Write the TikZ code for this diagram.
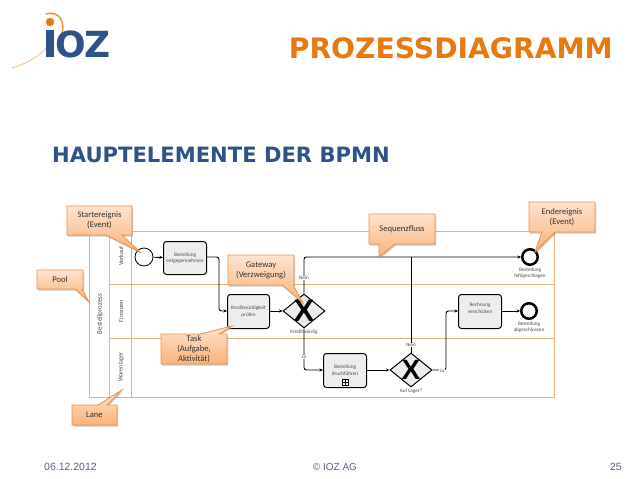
\documentclass[tikz,border=0pt]{standalone}
\usepackage{fontspec}
\setmainfont{Carlito}
\newfontfamily\headfont{DejaVu Sans}
\newfontfamily\footfont{Liberation Sans}
\usetikzlibrary{shapes.geometric,arrows.meta,shadows}
\definecolor{iozblue}{HTML}{2F5288}
\definecolor{iozorange}{HTML}{E8790F}
\definecolor{frameor}{HTML}{EDB07A}
\definecolor{callb}{HTML}{E8934A}
\definecolor{calltop}{HTML}{FDE3CF}
\definecolor{callbot}{HTML}{F9B27A}
\definecolor{foot}{HTML}{55637D}
\tikzset{
  x=1pt,y=-1pt,
  framel/.style={draw=frameor,line width=.9pt},
  callout/.style={draw=callb,line width=.8pt,top color=calltop,bottom color=callbot,
     general shadow={fill=black!45,opacity=.45,shadow xshift=1pt,shadow yshift=-1.5pt}},
  calltext/.style={font=\fontsize{8.6}{10}\selectfont,text=black!80,align=center,inner sep=0pt},
  task/.style={draw=black,line width=1pt,fill=black!7,rounded corners=3pt,inner sep=0pt,anchor=north west},
  tasktext/.style={font=\fontsize{5.2}{6.6}\selectfont,text=black!70,align=center},
  gate/.style={draw=black,line width=1pt,fill=black!7,diamond,aspect=1.24,inner sep=0pt,minimum width=42pt,minimum height=34pt},
  xmark/.style={font=\fontsize{#1}{#1}\footfont\bfseries,text=black,inner sep=0pt},
  startev/.style={circle,draw=black,line width=.8pt,fill=white,minimum size=18pt,inner sep=0pt},
  endev/.style={circle,draw=black,line width=2.5pt,fill=white,minimum size=15.5pt,inner sep=0pt},
  flow/.style={draw=black,line width=.9pt,rounded corners=2.5pt,-{Stealth[length=3.5pt,width=3pt]}},
  plain flow/.style={draw=black,line width=.9pt,rounded corners=2.5pt},
  small/.style={font=\fontsize{5.2}{6.4}\selectfont,text=black!70,align=center,inner sep=0pt},
  lanetext/.style={font=\fontsize{#1}{8}\selectfont,text=black!70,rotate=90,inner sep=0pt},
  foottext/.style={font=\fontsize{#1}{11}\footfont,text=foot,inner sep=0pt}
}
\begin{document}
\begin{tikzpicture}
\useasboundingbox (0,0) rectangle (638,479);
\fill[white] (0,0) rectangle (638,479);

% logo
\draw[iozorange!55,line width=.7pt,line cap=round] (12,68) .. controls (28,63) and (40,56) .. (48,46);
\draw[iozorange!80,line width=1.5pt,line cap=round] (46,14) .. controls (58,10) and (68,22) .. (60,38);
\fill[iozorange] (50,22) circle (4.2);
\fill[iozblue] (46,30) rectangle (54,57);
\node[font=\fontsize{36}{36}\headfont\bfseries,text=iozblue,inner sep=0pt,anchor=base west] (logotext) at (55,57) {\addfontfeature{LetterSpace=-3}OZ};

% titles
\node[font=\fontsize{28.2}{30}\headfont\bfseries,text=iozorange,anchor=base east,inner sep=0pt] (title) at (613,58) {PROZESSDIAGRAMM};
\node[font=\fontsize{21.1}{24}\headfont\bfseries,text=iozblue,anchor=base west,inner sep=0pt] (sub) at (52,162) {HAUPTELEMENTE DER BPMN};

% pool
\draw[framel] (89,231) rectangle (554,397);
\draw[framel] (109,231) -- (109,397);
\draw[framel] (131,231) -- (131,397);
\draw[framel] (109,284) -- (554,284);
\draw[framel] (109,338) -- (554,338);
\node[lanetext=7] (lpool) at (100,314) {Bestellprozess};
\node[lanetext=6.2] (l1) at (121,256) {Verkauf};
\node[lanetext=6.2] (l2) at (121,311) {Finanzen};
\node[lanetext=6.2] (l3) at (121,367) {Warenlager};

% bpmn elements
\node[startev] (start) at (144,257) {};
\node[task,minimum width=43pt,minimum height=33pt,tasktext] (t1) at (163,241) {Bestellung\\entgegennehmen};
\node[task,minimum width=42pt,minimum height=34pt,tasktext] (t2) at (227,294) {Kreditwürdigkeit\\prüfen};
\node[gate] (g1) at (304,311) {};
\node[xmark=31] (x1) at (g1.center) {X};
\node[task,minimum width=43pt,minimum height=34pt,tasktext] (t3) at (323,353) {Bestellung\\druchführen};
\node[gate] (g2) at (411,370) {};
\node[xmark=28] (x2) at (g2.center) {X};
\node[task,minimum width=43pt,minimum height=34pt,tasktext] (t4) at (458,294) {Rechnung\\verschicken\\\mbox{}};
\node[endev] (e1) at (530,257) {};
\node[endev] (e2) at (529,311) {};
\node[draw=black,line width=.8pt,fill=white,minimum size=6pt,inner sep=0pt] (sub3) at (345,382) {};
\draw[black,line width=.7pt] (sub3.west) -- (sub3.east) (sub3.north) -- (sub3.south);

\coordinate (c1) at (219,257);
\coordinate (c2) at (219,311);
\coordinate (c3) at (304,257);
\coordinate (c4) at (304,370);
\coordinate (c5) at (411,257);
\coordinate (c6) at (446,370);
\coordinate (c7) at (446,311);

\draw[flow] (start) -- (t1);
\draw[flow] (t1.east |- c1) -- (c1) -- (c2) -- (t2.west |- c2);
\draw[flow] (t2.east |- g1) -- (g1.west);
\draw[flow] (g1.north) -- (c3) -- (e1.west);
\draw[flow] (g1.south) -- (c4) -- (t3.west |- c4);
\draw[flow] (t3.east |- g2) -- (g2.west);
\draw[plain flow] (g2.north) -- (c5);
\draw[flow] (g2.east) -- (c6) -- (c7) -- (t4.west |- c7);
\draw[flow] (t4.east |- e2) -- (e2.west);

% small labels
\node[small,fill=white,inner sep=.5pt] (n1) at (304,278) {Nein};
\node[small] (n2) at (304,332) {Kreditwürdig};
\node[small,fill=white,inner sep=.5pt] (n3) at (304,357) {Ja};
\node[small,fill=white,inner sep=.5pt] (n4) at (411,345) {Nein};
\node[small] (n5) at (411,391) {Auf Lager?};
\node[small,fill=white,inner sep=.5pt] (n6) at (442,371) {Ja};
\node[small] (n7) at (530,273) {Bestellung\\fehlgeschlagen};
\node[small] (n8) at (529,327) {Bestellung\\abgeschlossen};

% callouts
\draw[callout] (67,206) -- (132,206) -- (132,235) -- (122,235) -- (140,252) -- (106,235) -- (67,235) -- cycle;
\node[calltext] (co1) at (99.5,220.5) {Startereignis\\(Event)};
\draw[callout] (37,270) -- (83,270) -- (83,289) -- (82,289) -- (89,302) -- (75,289) -- (37,289) -- cycle;
\node[calltext] (co2) at (60,279.5) {Pool};
\draw[callout] (72,405) -- (98,405) -- (122,390) -- (107,405) -- (117,405) -- (117,425) -- (72,425) -- cycle;
\node[calltext] (co3) at (94.5,415) {Lane};
\draw[callout] (161,334) -- (200,334) -- (232,326) -- (219,334) -- (227,334) -- (227,364) -- (161,364) -- cycle;
\node[calltext] (co4) at (194,349) {Task\\(Aufgabe,\\Aktivität)};
\draw[callout] (228,255) -- (294,255) -- (294,285) -- (293,285) -- (303,303) -- (282,285) -- (228,285) -- cycle;
\node[calltext] (co5) at (261,270) {Gateway\\(Verzweigung)};
\draw[callout] (369,214) -- (435,214) -- (435,244) -- (395,244) -- (379,257) -- (379,244) -- (369,244) -- cycle;
\node[calltext] (co6) at (402,229) {Sequenzfluss};
\draw[callout] (529,202) -- (595,202) -- (595,232) -- (555,232) -- (535,252) -- (542,232) -- (529,232) -- cycle;
\node[calltext] (co7) at (562,217) {Endereignis\\(Event)};

% footer
\node[foottext=10.5,anchor=base west] (f1) at (44,470) {06.12.2012};
\node[foottext=10,anchor=base] (f2) at (335,470) {© IOZ AG};
\node[foottext=10.5,anchor=base east] (f3) at (622,470) {25};
\end{tikzpicture}
\end{document}
